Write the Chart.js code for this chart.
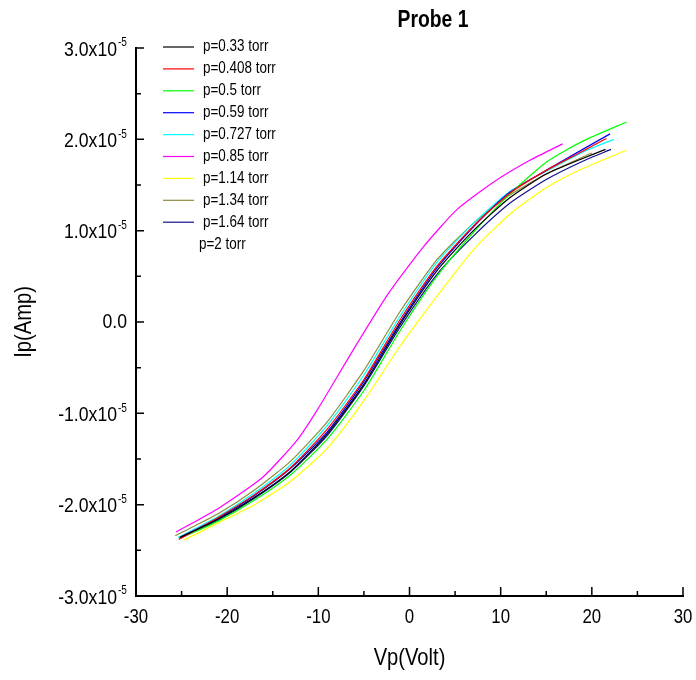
<!DOCTYPE html>
<html>
<head>
<meta charset="utf-8">
<script src="https://cdn.jsdelivr.net/npm/chart.js@4.4.1/dist/chart.umd.min.js"></script>
<style>
  html, body { margin: 0; padding: 0; background: #fff; }
  canvas { display: block; }
</style>
</head>
<body>
<canvas id="probe" width="696" height="680"></canvas>
<script>
// datos (corriente en unidades de 1e-6 A)
const labels = ['p=0.33 torr','p=0.408 torr','p=0.5 torr','p=0.59 torr','p=0.727 torr',
                'p=0.85 torr','p=1.14 torr','p=1.34 torr','p=1.64 torr','p=2 torr'];
const colors = ['#000000','#ff0000','#00ff00','#0000ff','#00ffff',
                '#ff00ff','#ffff00','#8c8c3c','#10108a','rgba(0,0,0,0)'];

const v033  = [-25.2, -21, -17, -13, -9, -5, -1, 3, 7, 11, 15, 19, 21.5];
const i033  = [-23.6, -21.6, -19.2, -16.3, -12.2, -6.8, -0.2, 5.6, 10.0, 13.6, 16.2, 17.9, 18.9];
const v0408 = [-25.3, -21, -17, -13, -9, -5, -1, 3, 7, 11, 15, 19, 21.6];
const i0408 = [-23.8, -21.4, -18.9, -15.9, -11.7, -6.3, 0.3, 6.1, 10.5, 14.1, 16.6, 18.7, 20.1];
const v05   = [-25.2, -21, -17, -13, -9, -5, -1, 3, 7, 11, 15, 19, 23.8];
const i05   = [-23.7, -21.8, -19.5, -16.7, -12.8, -7.5, -0.9, 5.0, 9.8, 14.0, 17.5, 19.8, 21.9];
const v059  = [-25.2, -21, -17, -13, -9, -5, -1, 3, 7, 11, 15, 19, 22.0];
const i059  = [-23.6, -21.5, -19.0, -16.0, -12.0, -6.5, 0.0, 5.9, 10.4, 14.2, 16.6, 18.9, 20.6];
const v0727 = [-25.4, -21, -17, -13, -9, -5, -1, 3, 7, 11, 15, 19, 22.4];
const i0727 = [-23.6, -21.3, -18.7, -15.6, -11.3, -5.8, 0.7, 6.5, 10.8, 14.3, 16.5, 18.6, 20.0];
const v085  = [-25.6, -20.8, -16.1, -12.3, -10.1, -6.2, -2.4, 1.5, 5.2, 9.2, 13.2, 16.8];
const i085  = [-23.0, -20.3, -17.0, -12.9, -9.6, -3.1, 3.0, 8.2, 12.3, 15.3, 17.7, 19.5];
const v114  = [-24.8, -21, -17, -13, -9, -5, -1, 3, 7, 11, 15, 19, 23.8];
const i114  = [-23.9, -22.0, -20.0, -17.4, -13.8, -8.6, -2.6, 2.8, 7.9, 11.8, 14.7, 16.8, 18.8];
const v134  = [-25.7, -21, -17, -13, -9, -5, -1, 3, 7, 11, 15, 20.0];
const i134  = [-23.4, -21.0, -18.4, -15.2, -10.9, -5.3, 1.2, 6.8, 10.8, 13.9, 16.2, 18.5];
const v164  = [-25.2, -21, -17, -13, -9, -5, -1, 3, 7, 11, 15, 19, 22.1];
const i164  = [-23.7, -21.7, -19.3, -16.4, -12.4, -7.0, -0.5, 5.2, 9.4, 13.0, 15.6, 17.6, 18.9];
const v2    = [];
const i2    = [];

const xTicks = [-30, -20, -10, 0, 10, 20, 30];
const xMinor = [-25, -15, -5, 5, 15, 25];
const yTicks = [-3, -2, -1, 0, 1, 2, 3];          // x1e-5
const yMinor = [-2.5, -1.5, -0.5, 0.5, 1.5, 2.5];

const vs = [v033, v0408, v05, v059, v0727, v085, v114, v134, v164, v2];
const is = [i033, i0408, i05, i059, i0727, i085, i114, i134, i164, i2];

const FONT = "'Liberation Sans', Arial, sans-serif";
const NARROW = 0.84;

function txt(ctx, s, x, y, size, align, bold) {
    ctx.save();
    ctx.font = (bold ? 'bold ' : '') + size + 'px ' + FONT;
    ctx.textAlign = align;
    ctx.textBaseline = 'middle';
    ctx.fillStyle = '#000';
    ctx.translate(x, y);
    ctx.scale(NARROW, 1);
    ctx.fillText(s, 0, 0);
    ctx.restore();
}

const decor = {
    id: 'decor',
    afterDraw(chart) {
        const ctx = chart.ctx;
        const xs = chart.scales.x, ys = chart.scales.y;
        const L = chart.chartArea.left, B = chart.chartArea.bottom;

        // ticks hacia dentro
        ctx.save();
        ctx.strokeStyle = '#000';
        ctx.lineWidth = 1.5;
        ctx.beginPath();
        xTicks.forEach(v => { const p = xs.getPixelForValue(v); ctx.moveTo(p, B); ctx.lineTo(p, B - 9); });
        xMinor.forEach(v => { const p = xs.getPixelForValue(v); ctx.moveTo(p, B); ctx.lineTo(p, B - 5); });
        yTicks.forEach(v => { const p = ys.getPixelForValue(v * 1e-5); ctx.moveTo(L, p); ctx.lineTo(L + 8, p); });
        yMinor.forEach(v => { const p = ys.getPixelForValue(v * 1e-5); ctx.moveTo(L, p); ctx.lineTo(L + 5, p); });
        ctx.stroke();
        ctx.restore();

        // etiquetas
        xTicks.forEach(v => txt(ctx, String(v), xs.getPixelForValue(v), B + 21, 20, 'center'));
        yTicks.forEach(v => {
            const p = ys.getPixelForValue(v * 1e-5);
            if (v === 0) { txt(ctx, '0.0', L - 9, p, 21, 'right'); return; }
            txt(ctx, v.toFixed(1) + 'x10', L - 19, p + 2, 21, 'right');
            txt(ctx, '-5', L - 18, p - 5, 12, 'left');
        });

        txt(ctx, 'Vp(Volt)', (chart.chartArea.left + chart.chartArea.right) / 2, 658, 24, 'center');
        ctx.save();
        ctx.translate(24, (chart.chartArea.top + B) / 2);
        ctx.rotate(-Math.PI / 2);
        txt(ctx, 'Ip(Amp)', 0, 0, 24, 'center');
        ctx.restore();

        txt(ctx, 'Probe 1', 433, 21, 23, 'center', true);

        // leyenda
        chart.data.datasets.forEach((ds, k) => {
            const y = 47 + k * 21.9;
            if (ds.data.length) {
                ctx.save();
                ctx.strokeStyle = ds.borderColor;
                ctx.lineWidth = 1.2;
                ctx.beginPath(); ctx.moveTo(163, y); ctx.lineTo(194, y); ctx.stroke();
                ctx.restore();
                txt(ctx, ds.label, 203, y, 16, 'left');
            } else {
                txt(ctx, ds.label, 199, y, 16, 'left');
            }
        });
    }
};

new Chart(document.getElementById('probe'), {
    type: 'scatter',
    data: {
        datasets: labels.map((lab, k) => ({
            label: lab,
            data: vs[k].map((x, j) => ({ x: x, y: is[k][j] * 1e-6 })),
            showLine: true,
            borderColor: colors[k],
            borderWidth: 1.2,
            pointRadius: 0,
            tension: 0.2
        }))
    },
    options: {
        responsive: false,
        animation: false,
        devicePixelRatio: 1,
        layout: { padding: { left: 128, top: 48, right: 13, bottom: 76 } },
        plugins: { legend: { display: false }, tooltip: { enabled: false } },
        scales: {
            x: {
                min: -30, max: 30,
                grid: { display: false },
                border: { display: true, color: '#000', width: 2 },
                ticks: { display: false }
            },
            y: {
                min: -3e-5, max: 3e-5,
                grid: { display: false },
                border: { display: true, color: '#000', width: 2 },
                ticks: { display: false }
            }
        }
    },
    plugins: [decor]
});
</script>
</body>
</html>
